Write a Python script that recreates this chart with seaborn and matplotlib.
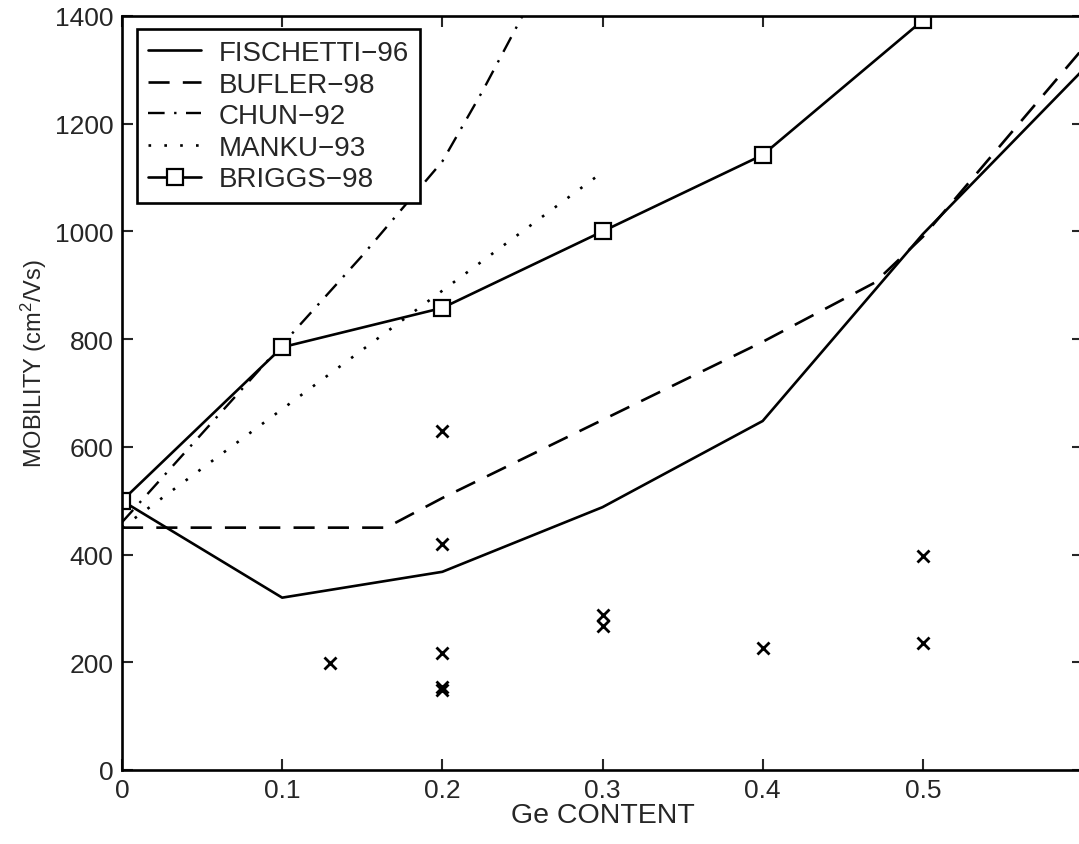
import matplotlib
matplotlib.use("Agg")
import matplotlib.pyplot as plt
import seaborn as sns
import numpy as np
import pandas as pd

# ---- data ----
fischetti_x = [0.0, 0.1, 0.2, 0.3, 0.4, 0.5, 0.6]
fischetti_y = [500, 320, 368, 488, 648, 995, 1300]

bufler_x = [0.0, 0.165, 0.2, 0.3, 0.4, 0.47, 0.5, 0.6]
bufler_y = [450, 450, 505, 650, 795, 905, 990, 1340]

chun_x = [0.0, 0.05, 0.1, 0.15, 0.2, 0.225, 0.25]
chun_y = [460, 625, 790, 955, 1130, 1260, 1400]

manku_x = [0.0, 0.1, 0.2, 0.3]
manku_y = [450, 670, 890, 1110]

briggs_x = [0.0, 0.1, 0.2, 0.3, 0.4, 0.5]
briggs_y = [500, 785, 858, 1000, 1142, 1392]

exp_x = [0.13, 0.2, 0.2, 0.2, 0.2, 0.2, 0.3, 0.3, 0.4, 0.5, 0.5]
exp_y = [198, 629, 419, 217, 155, 149, 288, 267, 226, 397, 235]

x_ticks = [0, 0.1, 0.2, 0.3, 0.4, 0.5]
x_ticklabels = ["0", "0.1", "0.2", "0.3", "0.4", "0.5"]
y_ticks = [0, 200, 400, 600, 800, 1000, 1200, 1400]

labels = ["FISCHETTI\u221296", "BUFLER\u221298", "CHUN\u221292", "MANKU\u221293", "BRIGGS\u221298"]

# ---- style ----
sns.set_style("ticks")
plt.rcParams["font.family"] = ["Liberation Sans", "DejaVu Sans"]
plt.rcParams["mathtext.fontset"] = "custom"
plt.rcParams["mathtext.rm"] = "Liberation Sans"
plt.rcParams["mathtext.it"] = "Liberation Sans"

fig = plt.figure(figsize=(10.79, 8.45), dpi=100)
W, H = 1079, 845
ax = fig.add_axes([122 / W, 74 / H, 961 / W, 754 / H])

LW = 1.9
sns.lineplot(x=fischetti_x, y=fischetti_y, ax=ax, color="black", lw=LW,
             estimator=None, sort=False)
l_fis = ax.lines[-1]
sns.lineplot(x=bufler_x, y=bufler_y, ax=ax, color="black", lw=LW,
             estimator=None, sort=False)
l_buf = ax.lines[-1]
l_buf.set_dashes((8, 5))
sns.lineplot(x=chun_x, y=chun_y, ax=ax, color="black", lw=LW * 0.9,
             estimator=None, sort=False)
l_chun = ax.lines[-1]
l_chun.set_dashes((7, 4, 1, 4))
sns.lineplot(x=manku_x, y=manku_y, ax=ax, color="black", lw=LW,
             estimator=None, sort=False)
l_man = ax.lines[-1]
l_man.set_dashes((1, 5))
sns.lineplot(x=briggs_x, y=briggs_y, ax=ax, color="black", lw=LW,
             estimator=None, sort=False, marker="s", markersize=11,
             markerfacecolor="white", markeredgecolor="black",
             markeredgewidth=1.6)
l_brig = ax.lines[-1]

sns.scatterplot(x=exp_x, y=exp_y, ax=ax, marker="x", color="black",
                s=75, linewidths=2.0, zorder=5, legend=False)

ax.set_xlim(0, 0.6)
ax.set_ylim(0, 1400)
ax.set_xticks(x_ticks)
ax.set_xticklabels(x_ticklabels)
ax.set_yticks(y_ticks)
ax.tick_params(direction="in", length=8, width=1.5, labelsize=19,
               top=True, right=True, pad=6)
for s in ax.spines.values():
    s.set_linewidth(1.9)
    s.set_color("black")

ax.set_xlabel("Ge CONTENT", fontsize=20.5, labelpad=0)
ax.set_ylabel("MOBILITY (cm$^2$/Vs)", fontsize=17)
ax.yaxis.set_label_coords(-0.076, 0.54)

leg = ax.legend([l_fis, l_buf, l_chun, l_man, l_brig], labels,
                loc="upper left", bbox_to_anchor=(15 / 961, 1 - 13 / 754),
                fontsize=20, frameon=True, fancybox=False, framealpha=1,
                edgecolor="black", handlelength=1.9, handletextpad=0.65,
                labelspacing=0.2, borderpad=0.4, borderaxespad=0)
leg.get_frame().set_linewidth(1.9)

fig.savefig("out.png", dpi=100)
